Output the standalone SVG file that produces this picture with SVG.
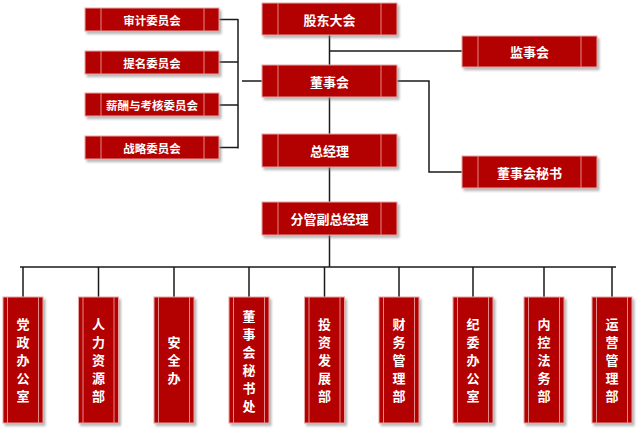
<svg xmlns="http://www.w3.org/2000/svg" width="640" height="429" viewBox="0 0 640 429">
<defs>
<filter id="sh" x="-10%" y="-10%" width="130%" height="130%">
<feDropShadow dx="2" dy="2.5" stdDeviation="1" flood-color="#7a7a7a" flood-opacity="0.55"/>
</filter>
</defs>
<style>
.box{fill:#b30000;stroke:#e9a3a3;stroke-width:1;filter:url(#sh)}
.in{stroke:#e48a8a;stroke-width:1;fill:none}
.ln{stroke:#1a1a1a;stroke-width:1.5;fill:none}
.t{fill:#fff;font-family:"Noto Sans CJK SC","Noto Sans",sans-serif;font-weight:bold;text-anchor:middle;dominant-baseline:central}
.tc{font-size:11.5px}
.tm{font-size:13px}
.tv{font-size:13px}
</style>
<rect width="640" height="429" fill="#fff"/>
<g id="connectors">
<path class="ln" d="M219 19.5H238M219 62H238M219 105H238M219 147.5H238M238 19V148.5M242 81H262"/>
<path class="ln" d="M329.5 35V65M329.5 51H462M329.5 97V134M329.5 167V202M329.5 235V267M397 81H429V172H462"/>
<path class="ln" d="M20 267H616M23 267V297M98.5 267V297M174 267V297M249 267V297M324.5 267V297M399 267V297M473 267V297M544 267V297M612 267V297"/>
</g>
<g id="n-shenji"><rect class="box" x="85" y="8" width="134" height="23"/><path class="in" d="M101 8V31M204 8V31"/><text class="t tc" x="152" y="19.5">审计委员会</text></g>
<g id="n-timing"><rect class="box" x="85" y="51" width="134" height="23"/><path class="in" d="M101 51V74M204 51V74"/><text class="t tc" x="152" y="62.5">提名委员会</text></g>
<g id="n-xinchou"><rect class="box" x="85" y="93" width="134" height="23"/><path class="in" d="M101 93V116M204 93V116"/><text class="t tc" x="152" y="104.5">薪酬与考核委员会</text></g>
<g id="n-zhanlue"><rect class="box" x="85" y="136" width="134" height="23"/><path class="in" d="M101 136V159M204 136V159"/><text class="t tc" x="152" y="147.5">战略委员会</text></g>
<g id="n-gudong"><rect class="box" x="262" y="3" width="135" height="32"/><path class="in" d="M278 3V35M381 3V35"/><text class="t tm" x="329.5" y="19">股东大会</text></g>
<g id="n-jianshi"><rect class="box" x="462" y="36" width="135" height="31"/><path class="in" d="M478 36V67M581 36V67"/><text class="t tm" x="529.5" y="51.5">监事会</text></g>
<g id="n-dongshi"><rect class="box" x="262" y="65" width="135" height="32"/><path class="in" d="M278 65V97M381 65V97"/><text class="t tm" x="329.5" y="81">董事会</text></g>
<g id="n-zongjingli"><rect class="box" x="262" y="134" width="135" height="33"/><path class="in" d="M278 134V167M381 134V167"/><text class="t tm" x="329.5" y="150.5">总经理</text></g>
<g id="n-mishu"><rect class="box" x="462" y="156" width="135" height="32"/><path class="in" d="M478 156V188M581 156V188"/><text class="t tm" x="529.5" y="172">董事会秘书</text></g>
<g id="n-fuzong"><rect class="box" x="262" y="202" width="135" height="33"/><path class="in" d="M278 202V235M381 202V235"/><text class="t tm" x="329.5" y="218.5">分管副总经理</text></g>
<g id="n-dangzheng"><rect class="box" x="3" y="297" width="40" height="126"/><path class="in" d="M7.5 297V423M38.5 297V423"/><text class="t tv" x="23"><tspan x="23" y="323">党</tspan><tspan x="23" y="341">政</tspan><tspan x="23" y="359">办</tspan><tspan x="23" y="377">公</tspan><tspan x="23" y="395">室</tspan></text></g>
<g id="n-renli"><rect class="box" x="78.5" y="297" width="40" height="126"/><path class="in" d="M83 297V423M114 297V423"/><text class="t tv"><tspan x="98.5" y="323">人</tspan><tspan x="98.5" y="341">力</tspan><tspan x="98.5" y="359">资</tspan><tspan x="98.5" y="377">源</tspan><tspan x="98.5" y="395">部</tspan></text></g>
<g id="n-anquan"><rect class="box" x="154" y="297" width="40" height="126"/><path class="in" d="M158.5 297V423M189.5 297V423"/><text class="t tv"><tspan x="174" y="341">安</tspan><tspan x="174" y="359">全</tspan><tspan x="174" y="377">办</tspan></text></g>
<g id="n-dmchu"><rect class="box" x="229" y="297" width="40" height="126"/><path class="in" d="M233.5 297V423M264.5 297V423"/><text class="t tv"><tspan x="249" y="315">董</tspan><tspan x="249" y="333">事</tspan><tspan x="249" y="351">会</tspan><tspan x="249" y="369">秘</tspan><tspan x="249" y="387">书</tspan><tspan x="249" y="405">处</tspan></text></g>
<g id="n-touzi"><rect class="box" x="304.5" y="297" width="40" height="126"/><path class="in" d="M309 297V423M340 297V423"/><text class="t tv"><tspan x="324.5" y="323">投</tspan><tspan x="324.5" y="341">资</tspan><tspan x="324.5" y="359">发</tspan><tspan x="324.5" y="377">展</tspan><tspan x="324.5" y="395">部</tspan></text></g>
<g id="n-caiwu"><rect class="box" x="379" y="297" width="40" height="126"/><path class="in" d="M383.5 297V423M414.5 297V423"/><text class="t tv"><tspan x="399" y="323">财</tspan><tspan x="399" y="341">务</tspan><tspan x="399" y="359">管</tspan><tspan x="399" y="377">理</tspan><tspan x="399" y="395">部</tspan></text></g>
<g id="n-jiwei"><rect class="box" x="453" y="297" width="40" height="126"/><path class="in" d="M457.5 297V423M488.5 297V423"/><text class="t tv"><tspan x="473" y="323">纪</tspan><tspan x="473" y="341">委</tspan><tspan x="473" y="359">办</tspan><tspan x="473" y="377">公</tspan><tspan x="473" y="395">室</tspan></text></g>
<g id="n-neikong"><rect class="box" x="524" y="297" width="40" height="126"/><path class="in" d="M528.5 297V423M559.5 297V423"/><text class="t tv"><tspan x="544" y="323">内</tspan><tspan x="544" y="341">控</tspan><tspan x="544" y="359">法</tspan><tspan x="544" y="377">务</tspan><tspan x="544" y="395">部</tspan></text></g>
<g id="n-yunying"><rect class="box" x="592" y="297" width="40" height="126"/><path class="in" d="M596.5 297V423M627.5 297V423"/><text class="t tv"><tspan x="612" y="323">运</tspan><tspan x="612" y="341">营</tspan><tspan x="612" y="359">管</tspan><tspan x="612" y="377">理</tspan><tspan x="612" y="395">部</tspan></text></g>
</svg>
